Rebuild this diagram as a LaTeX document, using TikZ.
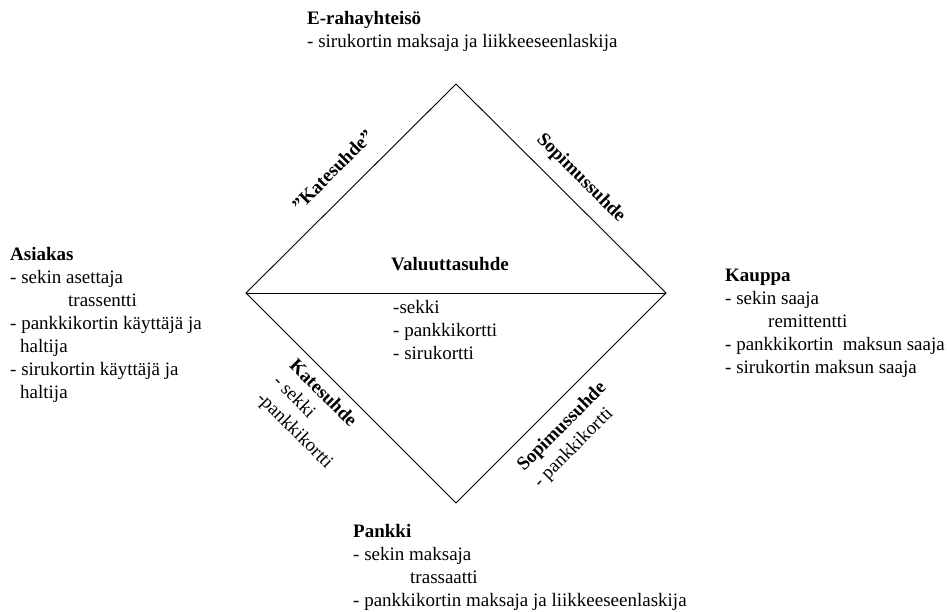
\documentclass[tikz,border=0pt]{standalone}
\usepackage{fontspec}
\setmainfont{Liberation Serif}
\begin{document}
\begin{tikzpicture}[x=1pt,y=-1pt,
  txt/.style={anchor=base west, inner sep=0pt, font=\fontsize{19}{23}\selectfont},
  edge/.style={line width=0.9pt, line join=miter}]
\useasboundingbox (0,0) rectangle (947,612);
% diamond corners
\coordinate (T) at (456,84);
\coordinate (L) at (246,293);
\coordinate (R) at (666,293);
\coordinate (B) at (456,503);
\draw[edge] (T) -- (R) -- (B) -- (L) -- cycle;
\draw[edge] (L) -- (R);
% actors
\node[txt] (erah) at (307,25) {\begin{tabular}[t]{@{}l@{}}\textbf{E-rahayhteisö}\\- sirukortin maksaja ja liikkeeseenlaskija\end{tabular}};
\node[txt] (asiakas) at (10,261) {\begin{tabular}[t]{@{}l@{}}\textbf{Asiakas}\\- sekin asettaja\\\hspace*{58pt}trassentti\\- pankkikortin käyttäjä ja\\\hspace*{10pt}haltija\\- sirukortin käyttäjä ja\\\hspace*{10pt}haltija\end{tabular}};
\node[txt] (kauppa) at (725,281) {\begin{tabular}[t]{@{}l@{}}\textbf{Kauppa}\\- sekin saaja\\\hspace*{43pt}remittentti\\- pankkikortin\ \ maksun saaja\\- sirukortin maksun saaja\end{tabular}};
\node[txt] (pankki) at (353,537) {\begin{tabular}[t]{@{}l@{}}\textbf{Pankki}\\- sekin maksaja\\\hspace*{57pt}trassaatti\\- pankkikortin maksaja ja liikkeeseenlaskija\end{tabular}};
% centre
\node[txt, anchor=base] (valuutta) at (450,270) {\textbf{Valuuttasuhde}};
\node[txt] (valuuttalista) at (393,313) {\begin{tabular}[t]{@{}l@{}}-sekki\\- pankkikortti\\- sirukortti\end{tabular}};
% edge labels
\node[txt, rotate=45] (kateylä) at (299.7,212.4) {\textbf{”Katesuhde”}};
\node[txt, rotate=-45] (sopylä) at (535.9,139.9) {\textbf{Sopimussuhde}};
\node[txt, rotate=-45] (kateala) at (288.4,366.5) {\begin{tabular}[t]{@{}l@{}}\textbf{Katesuhde}\\- sekki\\-pankkikortti\end{tabular}};
\node[txt, rotate=45] (sopala) at (523.9,471.9) {\begin{tabular}[t]{@{}l@{}}\textbf{Sopimussuhde}\\- pankkikortti\end{tabular}};
\end{tikzpicture}
\end{document}
